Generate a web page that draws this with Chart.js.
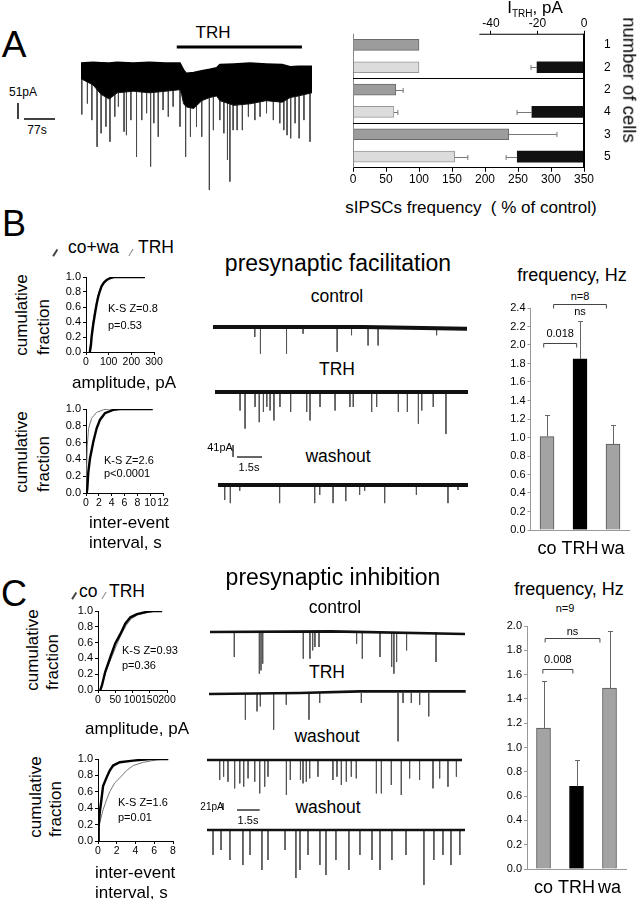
<!DOCTYPE html>
<html>
<head>
<meta charset="utf-8">
<script src="https://cdn.jsdelivr.net/npm/chart.js@4.4.1/dist/chart.umd.min.js"></script>
<style>
  html, body { margin: 0; padding: 0; background: #fff; }
  body { width: 639px; height: 899px; position: relative; overflow: hidden;
         font-family: "Liberation Sans", Arial, Helvetica, sans-serif; color: #000; }
  canvas { position: absolute; }
  .t { position: absolute; white-space: pre; line-height: 1; }
  .sl { position: absolute; height: 1px; width: 8px; }
</style>
</head>
<body>
<script>
// ---------- data ----------

// Panel A, right: sIPSC frequency (% of control) and TRH current per group
const cellCounts = ['1', '2', '2', '4', '3', '5'];
const freqPct = [100, 100, 65, 62, 236, 154];
const freqPctErr = [0, 0, 11, 6, 73, 20];
const trhCurrent = [null, -20.2, null, -22.4, null, -28.7];
const trhCurrentErr = [0, 2.6, 0, 6.4, 0, 4.8];
const freqTicks = [0, 50, 100, 150, 200, 250, 300, 350];
const currentTicks = [-40, -20, 0];
const groupBreaks = [2, 4];

// Panel A, left: long recording (s, pA). dense band envelope + big events
const envT = [0, 30, 50, 70, 90, 130, 170, 210, 246, 250, 255, 262, 280, 300, 320, 337, 345, 380, 420, 460, 500, 520, 540, 574];
const envTop = [0, 2, 1, 0, 2, 0, 2, 0, 0, -10, -22, -33, -30, -25, -20, -15, -5, -3, 0, -3, -5, -12, -10, -10];
const envBottom = [-50, -70, -100, -115, -95, -90, -95, -90, -85, -100, -130, -140, -145, -120, -110, -105, -120, -135, -130, -120, -125, -110, -105, -95];
const spikesA_t = [2, 16, 27, 40, 50, 62, 72, 84, 93, 107, 113, 124, 138, 151, 163, 173, 181, 192, 204, 217,
  229, 246, 260, 272, 287, 300, 319, 329, 345, 355, 364, 370, 378, 388, 401, 416, 432, 445, 461, 478,
  494, 504, 512, 521, 532, 542, 554, 569];
const spikesA_amp = [-164, -129, -182, -267, -224, -203, -251, -171, -139, -219, -230, -182, -299, -182, -160, -330, -192, -235, -150, -171,
  -139, -203, -299, -235, -203, -235, -405, -214, -182, -224, -309, -378, -214, -214, -214, -171, -182, -171, -160, -182,
  -192, -214, -230, -240, -192, -240, -182, -251];
const trhWindowA = [238, 549];

// Panel B traces (s, pA)
const ctrlB_baseT = [0, 9, 15.2];
const ctrlB_baseY = [0, 0, -6];
const ctrlB_t = [2.5, 2.84, 4.4, 5.39, 7.43, 8.29, 9.28, 9.88, 13.38];
const ctrlB_amp = [-34, -91, -91, -23, -85, -28, -63, -63, -28];
const trhB_baseT = [0, 15.15];
const trhB_baseY = [0, 0];
const trhB_t = [1.5, 1.8, 2.4, 2.65, 2.9, 3.1, 3.3, 3.53, 3.89, 4.53, 5.49, 5.69, 6.29, 7.19, 8.08, 8.28, 9.38, 9.68, 10.98, 11.52, 12.18, 12.38, 13.07, 13.83];
const trhB_amp = [-63, -125, -51, -103, -68, -51, -63, -97, -51, -68, -68, -97, -51, -63, -51, -51, -68, -51, -68, -68, -108, -63, -51, -143];
const washB_baseT = [0, 14.97];
const washB_baseY = [0, 0];
const washB_t = [0.4, 0.74, 1.3, 3.69, 5.79, 6.09, 6.89, 7.65, 8.48, 8.78, 9.98, 11.88, 13.77, 14.37];
const washB_amp = [-51, -62, -20, -62, -62, -34, -62, -55, -34, -20, -62, -34, -62, -17];

// Panel C traces (s, pA)
const ctrlC_baseT = [0, 8, 16.9];
const ctrlC_baseY = [0, 2, -6];
const ctrlC_t = [1.61, 3.27, 3.38, 3.49, 6.18, 6.62, 6.8, 6.95, 7.22, 9.71, 10.09, 11.26, 12.03, 12.18, 12.36, 13.02, 14.97];
const ctrlC_amp = [-75, -125, -115, -95, -80, -80, -55, -45, -45, -35, -80, -75, -105, -125, -90, -55, -90];
const trhC_baseT = [0, 6, 10, 17];
const trhC_baseY = [-3, 0, 5, 5];
const trhC_t = [2.41, 3.18, 3.4, 4.28, 5.12, 6.62, 7.33, 10.09, 12.52, 12.85, 13.4, 13.95, 14.55];
const trhC_amp = [-80, -55, -40, -110, -35, -80, -30, -30, -145, -30, -30, -35, -70];
const washC1_baseT = [0, 16.9];
const washC1_baseY = [0, 0];
const washC1_t = [0.84, 1.1, 1.39, 1.83, 2.17, 2.43, 2.72, 3.16, 3.49, 3.82, 4.04, 5.26, 5.52, 6.19, 6.36, 6.58, 6.8, 7.35, 8.34, 8.61,
  8.9, 9.23, 9.56, 9.89, 11.22, 11.55, 12.21, 12.87, 13.42, 14.08, 14.97, 15.41, 15.96, 16.52];
const washC1_amp = [-60, -50, -65, -85, -70, -80, -55, -65, -100, -80, -50, -105, -60, -60, -70, -65, -55, -50, -60, -50,
  -75, -65, -50, -55, -100, -100, -75, -105, -55, -60, -85, -55, -80, -50];
const washC2_baseT = [0, 17.1];
const washC2_baseY = [0, 0];
const washC2_t = [0.4, 0.93, 1.52, 2.38, 2.85, 3.64, 4.04, 5.17, 5.89, 6.16, 6.69, 7.48, 7.88, 8.54, 9.4, 10.13, 10.93, 11.46, 12.25, 13.18, 14.37, 15.03, 15.63, 16.16, 16.75];
const washC2_amp = [-75, -60, -90, -105, -75, -120, -90, -60, -144, -120, -75, -105, -135, -90, -120, -75, -90, -120, -90, -75, -165, -90, -75, -105, -75];

// cumulative distributions
const cumTicks = [0, 0.2, 0.4, 0.6, 0.8, 1.0];
const ampB_co_x = [17, 22, 25, 32, 40, 47, 54, 62, 69, 80, 91, 110, 125, 260];
const ampB_co_y = [0, 0.1, 0.21, 0.37, 0.52, 0.64, 0.74, 0.82, 0.88, 0.93, 0.96, 0.99, 1, 1];
const ampB_trh_x = [15, 20, 24, 30, 38, 45, 52, 60, 68, 78, 90, 105, 120, 150];
const ampB_trh_y = [0, 0.1, 0.21, 0.37, 0.52, 0.64, 0.74, 0.82, 0.88, 0.93, 0.96, 0.99, 1, 1];
const ieiB_co_x = [0.1, 0.2, 0.36, 0.62, 1.14, 1.66, 2.17, 2.95, 4.24, 5.28, 10.4];
const ieiB_co_y = [0, 0.05, 0.25, 0.41, 0.61, 0.77, 0.87, 0.95, 0.99, 1, 1];
const ieiB_trh_x = [0.05, 0.1, 0.2, 0.41, 0.88, 1.66, 2.7, 3.7, 10.4];
const ieiB_trh_y = [0, 0.3, 0.57, 0.77, 0.89, 0.96, 0.99, 1, 1];
const ampC_co_x = [6.8, 11.6, 21, 36, 50, 65, 79, 94, 113, 142, 161, 186];
const ampC_co_y = [0, 0.06, 0.23, 0.42, 0.59, 0.71, 0.84, 0.92, 0.96, 0.99, 1, 1];
const ampC_trh_x = [5, 10, 22, 38, 53, 67, 82, 96, 115, 140, 160, 186];
const ampC_trh_y = [0, 0.05, 0.22, 0.4, 0.56, 0.7, 0.82, 0.9, 0.95, 0.98, 1, 1];
const ieiC_co_x = [0, 0.07, 0.18, 0.36, 0.54, 0.9, 1.25, 1.61, 2.33, 3.76, 5.56, 7.5];
const ieiC_co_y = [0, 0.18, 0.34, 0.5, 0.67, 0.77, 0.86, 0.92, 0.96, 0.98, 1, 1];
const ieiC_trh_x = [0, 0.18, 0.54, 0.9, 1.25, 1.79, 2.33, 3.05, 3.76, 4.84, 6.27, 7.35];
const ieiC_trh_y = [0, 0.22, 0.38, 0.5, 0.6, 0.71, 0.77, 0.86, 0.92, 0.96, 0.99, 1];

// frequency bar charts (Hz)
const freqCats = ['co', 'TRH', 'wa'];
const facilMean = [1.01, 1.85, 0.93];
const facilErr = [0.23, 0.41, 0.20];
const facilTicks = [0, 0.2, 0.4, 0.6, 0.8, 1.0, 1.2, 1.4, 1.6, 1.8, 2.0, 2.2, 2.4];
const inhibMean = [1.16, 0.68, 1.49];
const inhibErr = [0.39, 0.22, 0.47];
const inhibTicks = [0, 0.2, 0.4, 0.6, 0.8, 1.0, 1.2, 1.4, 1.6, 1.8, 2.0];

// ---------- helpers ----------
const F = "'Liberation Sans', Arial, Helvetica, sans-serif";
Chart.defaults.font.family = F;
Chart.defaults.color = '#000';

function addCanvas(left, top, w, h) {
  const c = document.createElement('canvas');
  c.width = w; c.height = h;
  c.style.left = left + 'px'; c.style.top = top + 'px';
  c.style.width = w + 'px'; c.style.height = h + 'px';
  document.body.appendChild(c);
  return c.getContext('2d');
}

function label(html, x, y, size, o = {}) {
  const d = document.createElement('div');
  d.className = 't';
  d.innerHTML = html;
  d.style.left = x + 'px';
  d.style.top = y + 'px';
  d.style.fontSize = size + 'px';
  let tr = o.left ? 'translate(0,-50%)' : 'translate(-50%,-50%)';
  if (o.rot) tr += ' rotate(' + o.rot + 'deg)';
  d.style.transform = tr;
  document.body.appendChild(d);
}

function slash(x, y, w, color) {
  const d = document.createElement('div');
  d.className = 'sl';
  d.style.left = (x - 4) + 'px';
  d.style.top = y + 'px';
  d.style.height = w + 'px';
  d.style.background = color;
  d.style.transform = 'rotate(-58deg)';
  document.body.appendChild(d);
}

function seg(ctx, x0, y0, x1, y1) {
  ctx.beginPath(); ctx.moveTo(x0, y0); ctx.lineTo(x1, y1); ctx.stroke();
}

const pts = (xs, ys) => xs.map((v, i) => ({ x: v, y: ys[i] }));
const fixedTicks = arr => s => { s.ticks = arr.map(v => ({ value: v })); };

function baseOpts(pad) {
  return {
    responsive: false, animation: false, events: [],
    layout: { padding: Object.assign({ top: 0, right: 0, bottom: 0, left: 0 }, pad), autoPadding: false },
    plugins: { legend: { display: false }, tooltip: { enabled: false } }
  };
}

// scale bar drawn in data units of a trace chart
function scaleBar(t0, y0, dy, gapT, dt, lw) {
  return {
    id: 'scaleBar',
    afterDraw(chart) {
      const { ctx, scales: { x, y } } = chart;
      ctx.save();
      ctx.strokeStyle = '#000';
      ctx.lineWidth = lw;
      seg(ctx, x.getPixelForValue(t0), y.getPixelForValue(y0), x.getPixelForValue(t0), y.getPixelForValue(y0 - dy));
      seg(ctx, x.getPixelForValue(t0 + gapT), y.getPixelForValue(y0 - dy), x.getPixelForValue(t0 + gapT + dt), y.getPixelForValue(y0 - dy));
      ctx.restore();
    }
  };
}

function traceChart(left, top, w, h, xMax, yMin, yMax, bt, by, st, sa, lineW, extra) {
  const ctx = addCanvas(left, top, w, h);
  const spikes = [];
  st.forEach((t, i) => { spikes.push({ x: t, y: 0 }, { x: t, y: sa[i] }, { x: t, y: null }); });
  new Chart(ctx, {
    type: 'line',
    data: {
      datasets: [
        { data: pts(bt, by), borderColor: '#111', borderWidth: lineW, pointRadius: 0 },
        { data: spikes, borderColor: '#555', borderWidth: 1, pointRadius: 0, spanGaps: false }
      ]
    },
    options: Object.assign(baseOpts({}), {
      scales: {
        x: { type: 'linear', display: false, min: 0, max: xMax },
        y: { display: false, min: yMin, max: yMax }
      }
    }),
    plugins: extra ? [extra] : []
  });
}

function cumChart(left, top, w, h, area, xMax, xTicks, coX, coY, trhX, trhY) {
  const ctx = addCanvas(left, top, w, h);
  new Chart(ctx, {
    type: 'line',
    data: {
      datasets: [
        { data: pts(coX, coY), borderColor: '#000', borderWidth: 2.4, pointRadius: 0 },
        { data: pts(trhX, trhY), borderColor: '#777', borderWidth: 1, pointRadius: 0 }
      ]
    },
    options: Object.assign(baseOpts({ top: area.t - top, right: left + w - area.r }), {
      scales: {
        x: {
          type: 'linear', min: 0, max: xMax,
          afterBuildTicks: fixedTicks(xTicks),
          afterFit: s => { s.height = top + h - area.b; },
          grid: { drawOnChartArea: false, color: '#000', tickLength: 3 },
          border: { color: '#000' },
          ticks: { font: { size: 10.5 }, color: '#000', padding: 1, maxRotation: 0, autoSkip: false }
        },
        y: {
          min: 0, max: 1,
          afterBuildTicks: fixedTicks(cumTicks),
          afterFit: s => { s.width = area.l - left; },
          grid: { drawOnChartArea: false, color: '#000', tickLength: 3 },
          border: { color: '#000' },
          ticks: { font: { size: 11 }, color: '#000', padding: 2, autoSkip: false, callback: v => v.toFixed(1) }
        }
      }
    })
  });
}

function freqChart(left, top, w, h, area, yMax, yTicks, means, errs, brackets) {
  const ctx = addCanvas(left, top, w, h);
  const extras = {
    id: 'freqExtras',
    afterDatasetsDraw(chart) {
      const { ctx, scales: { x, y } } = chart;
      ctx.save();
      ctx.strokeStyle = '#666';
      ctx.lineWidth = 1;
      means.forEach((m, i) => {
        const xx = Math.round(x.getPixelForValue(i)) + 0.5;
        const y0 = y.getPixelForValue(m), y1 = Math.round(y.getPixelForValue(m + errs[i])) + 0.5;
        seg(ctx, xx, y0, xx, y1);
        seg(ctx, xx - 2.5, y1, xx + 2.5, y1);
      });
      ctx.strokeStyle = '#444';
      ctx.fillStyle = '#000';
      ctx.font = '11px ' + F;
      ctx.textAlign = 'center';
      ctx.textBaseline = 'middle';
      brackets.forEach(b => {
        const x0 = x.getPixelForValue(b.from), x1 = x.getPixelForValue(b.to);
        const yy = Math.round(y.getPixelForValue(b.level)) + 0.5;
        seg(ctx, x0, yy + 4, x0, yy);
        seg(ctx, x0, yy, x1, yy);
        seg(ctx, x1, yy, x1, yy + 4);
        ctx.fillText(b.text, (x0 + x1) / 2, yy + b.dy);
      });
      ctx.restore();
    }
  };
  new Chart(ctx, {
    type: 'bar',
    data: {
      labels: freqCats,
      datasets: [{
        data: means,
        backgroundColor: ['#a3a3a3', '#000', '#a3a3a3'],
        borderColor: ['#555', '#000', '#555'],
        borderWidth: 1, barThickness: 14
      }]
    },
    options: Object.assign(baseOpts({ top: area.t - top, right: left + w - area.r }), {
      scales: {
        x: {
          type: 'category', offset: true,
          afterFit: s => { s.height = top + h - area.b; },
          grid: { display: false, drawTicks: false },
          border: { color: '#999' },
          ticks: { font: { size: 18 }, color: '#000', padding: 8, maxRotation: 0, autoSkip: false }
        },
        y: {
          min: 0, max: yMax,
          afterBuildTicks: fixedTicks(yTicks),
          afterFit: s => { s.width = area.l - left; },
          grid: { drawOnChartArea: false, color: '#999', tickLength: 3 },
          border: { color: '#999' },
          ticks: { font: { size: 11 }, color: '#000', padding: 2, autoSkip: false, callback: v => v.toFixed(1) }
        }
      }
    }),
    plugins: [extras]
  });
}

// ---------- panel A ----------
label('A', 14, 44, 37);
label('TRH', 213, 32, 17);
label('51pA', 23, 92, 12);
label('77s', 37, 130, 12);

(function () {
  const ctx = addCanvas(0, 40, 312, 155);
  const spikes = [];
  spikesA_t.forEach((t, i) => { spikes.push({ x: t, y: -40 }, { x: t, y: spikesA_amp[i] }, { x: t, y: null }); });
  const extras = {
    id: 'traceAExtras',
    afterDraw(chart) {
      const { ctx, scales: { x, y } } = chart;
      ctx.save();
      ctx.strokeStyle = '#000';
      ctx.lineWidth = 3;
      const yb = y.getPixelForValue(51);
      seg(ctx, x.getPixelForValue(trhWindowA[0]), yb, x.getPixelForValue(trhWindowA[1]), yb);
      ctx.restore();
    }
  };
  new Chart(ctx, {
    type: 'line',
    data: {
      datasets: [
        { data: pts(envT, envTop), borderColor: '#000', borderWidth: 1.5, pointRadius: 0, fill: false },
        { data: pts(envT, envBottom), borderColor: '#111', borderWidth: 1, pointRadius: 0, fill: '-1', backgroundColor: '#000' },
        { data: spikes, borderColor: '#4a4a4a', borderWidth: 1, pointRadius: 0, spanGaps: false }
      ]
    },
    options: Object.assign(baseOpts({}), {
      scales: {
        x: { type: 'linear', display: false, min: -201.2, max: 574 },
        y: { display: false, min: -420.75, max: 73.3 }
      }
    }),
    plugins: [extras, scaleBar(-156.5, -127.5, 51, 15, 77, 1.5)]
  });
})();

// horizontal bars
(function () {
  const ctx = addCanvas(330, 0, 309, 195);
  const fills = freqPct.map((v, i) => i % 2 ? '#dcdcdc' : '#9c9c9c');
  const edges = freqPct.map((v, i) => i % 2 ? '#999' : '#6a6a6a');
  const extras = {
    id: 'aExtras',
    afterDatasetsDraw(chart) {
      const { ctx, chartArea: ca, scales: { x, x2, y } } = chart;
      ctx.save();
      ctx.lineWidth = 1;
      ctx.strokeStyle = '#888';
      seg(ctx, ca.left + 0.5, ca.top, ca.left + 0.5, ca.bottom);
      ctx.strokeStyle = '#000';
      groupBreaks.forEach(b => {
        const yy = Math.round((y.getPixelForValue(b - 1) + y.getPixelForValue(b)) / 2) + 0.5;
        seg(ctx, ca.left, yy, ca.right, yy);
      });
      ctx.strokeStyle = '#777';
      freqPct.forEach((v, i) => {
        if (!freqPctErr[i]) return;
        const yy = Math.round(y.getPixelForValue(i)) + 0.5;
        const x0 = x.getPixelForValue(v), x1 = x.getPixelForValue(v + freqPctErr[i]);
        seg(ctx, x0, yy, x1, yy);
        seg(ctx, x1, yy - 2.5, x1, yy + 2.5);
      });
      trhCurrent.forEach((v, i) => {
        if (v === null) return;
        const yy = Math.round(y.getPixelForValue(i)) + 0.5;
        const x0 = x2.getPixelForValue(v), x1 = x2.getPixelForValue(v - trhCurrentErr[i]);
        seg(ctx, x0, yy, x1, yy);
        seg(ctx, x1, yy - 2.5, x1, yy + 2.5);
      });
      ctx.strokeStyle = '#000';
      ctx.lineWidth = 2;
      const x0 = x2.getPixelForValue(0);
      seg(ctx, x0, ca.top, x0, ca.bottom);
      ctx.lineWidth = 1;
      seg(ctx, x2.getPixelForValue(-45), ca.top + 0.5, x0, ca.top + 0.5);
      ctx.restore();
    }
  };
  new Chart(ctx, {
    type: 'bar',
    data: {
      labels: cellCounts,
      datasets: [
        { data: freqPct, xAxisID: 'x', backgroundColor: fills, borderColor: edges, borderWidth: 1, barThickness: 11, grouped: false },
        { data: trhCurrent, xAxisID: 'x2', backgroundColor: '#111', borderWidth: 0, barThickness: 11, grouped: false }
      ]
    },
    options: Object.assign(baseOpts({ left: 23 }), {
      indexAxis: 'y',
      scales: {
        x: {
          type: 'linear', position: 'bottom', min: 0, max: 350,
          afterBuildTicks: fixedTicks(freqTicks),
          afterFit: s => { s.height = 20.25; },
          grid: { drawOnChartArea: false, color: '#000', tickLength: 4 },
          border: { color: '#000' },
          ticks: { font: { size: 12 }, color: '#000', padding: 1, maxRotation: 0, autoSkip: false }
        },
        x2: {
          type: 'linear', position: 'top', min: -99.35, max: 0,
          afterBuildTicks: fixedTicks(currentTicks),
          afterFit: s => { s.height = 33.75; },
          grid: { drawOnChartArea: false, color: '#000', tickLength: 3 },
          border: { display: false },
          ticks: { font: { size: 12 }, color: '#000', padding: 0, maxRotation: 0, autoSkip: false }
        },
        y: {
          type: 'category', position: 'right', offset: true,
          afterFit: s => { s.width = 55; },
          grid: { display: false, drawTicks: false },
          border: { display: false },
          ticks: { font: { size: 12 }, color: '#000', padding: 20 }
        }
      }
    }),
    plugins: [extras]
  });
})();

label('I<span style="font-size:10px;position:relative;top:4px">TRH</span>, pA', 535, 7, 17);
label('number of cells', 629, 80, 18.5, { rot: 90 });
label('sIPSCs frequency  ( % of control)', 471, 207, 17);

// ---------- panel B ----------
label('B', 14, 224, 36);
slash(55, 252, 1.5, '#444');
label('co+wa', 68, 248, 17.5, { left: true });
slash(131, 252, 1, '#888');
label('TRH', 138, 248, 17.5, { left: true });

label('cumulative', 21, 314.5, 17, { rot: -90 });
label('fraction', 42.5, 327, 17, { rot: -90 });
cumChart(55, 268, 110, 104, { l: 86, r: 154, t: 277, b: 352 }, 300, [0, 100, 200, 300], ampB_co_x, ampB_co_y, ampB_trh_x, ampB_trh_y);
label('K-S Z=0.8', 108, 308, 11, { left: true });
label('p=0.53', 108, 325, 11, { left: true });
label('amplitude, pA', 124, 382, 17);

label('cumulative', 21, 451.5, 17, { rot: -90 });
label('fraction', 42.5, 464, 17, { rot: -90 });
cumChart(55, 400, 118, 113, { l: 86, r: 163, t: 409, b: 493 }, 12, [0, 2, 4, 6, 8, 10, 12], ieiB_co_x, ieiB_co_y, ieiB_trh_x, ieiB_trh_y);
label('K-S Z=2.6', 104, 460, 11, { left: true });
label('p&lt;0.0001', 104, 473, 11, { left: true });
label('inter-event', 89, 522, 17, { left: true });
label('interval, s', 89, 542, 17, { left: true });

label('presynaptic facilitation', 338, 263, 23);
label('control', 337, 297, 17.5);
label('TRH', 337, 370, 17.5);
label('washout', 338, 457, 17.5);
label('41pA', 220, 447, 11);
label('1.5s', 249, 467, 11);
traceChart(213, 318, 254, 40, 15.2, -106, 30.8, ctrlB_baseT, ctrlB_baseY, ctrlB_t, ctrlB_amp, 4);
traceChart(215, 383, 253, 55, 15.15, -157, 30.8, trhB_baseT, trhB_baseY, trhB_t, trhB_amp, 4);
traceChart(218, 440, 250, 70, 14.97, -85.5, 154, washB_baseT, washB_baseY, washB_t, washB_amp, 4,
  scaleBar(0.9, 136.8, 41, 0.24, 1.5, 1.2));

label('frequency, Hz', 572, 275, 18);
label('n=8', 580, 296, 11);
freqChart(480, 285, 159, 285, { l: 530.5, r: 629.5, t: 308, b: 530 }, 2.4, facilTicks, facilMean, facilErr, [
  { from: -0.1, to: 0.9, level: 2.02, text: '0.018', dy: -10 },
  { from: 0.2, to: 1.8, level: 2.44, text: 'ns', dy: 7 }
]);

// ---------- panel C ----------
label('C', 14, 594, 36);
slash(74, 595, 1.5, '#444');
label('co', 79, 592, 17.5, { left: true });
slash(104, 595, 1, '#888');
label('TRH', 109, 592, 17.5, { left: true });

label('cumulative', 32, 649.5, 17, { rot: -90 });
label('fraction', 52, 662, 17, { rot: -90 });
cumChart(67, 602, 110, 108, { l: 98, r: 167, t: 611, b: 690 }, 200, [0, 50, 100, 150, 200], ampC_co_x, ampC_co_y, ampC_trh_x, ampC_trh_y);
label('K-S Z=0.93', 122, 650, 11, { left: true });
label('p=0.36', 122, 665, 11, { left: true });
label('amplitude, pA', 137, 728, 17);

label('cumulative', 35, 796.5, 17, { rot: -90 });
label('fraction', 55, 809, 17, { rot: -90 });
cumChart(67, 750, 116, 112, { l: 98, r: 173, t: 759, b: 841 }, 8, [0, 2, 4, 6, 8], ieiC_co_x, ieiC_co_y, ieiC_trh_x, ieiC_trh_y);
label('K-S Z=1.6', 118, 802, 11, { left: true });
label('p=0.01', 118, 817, 11, { left: true });
label('inter-event', 95, 872, 17, { left: true });
label('interval, s', 95, 892, 17, { left: true });

label('presynaptic inhibition', 333, 577, 23);
label('control', 335, 608, 17.5);
label('TRH', 327, 673, 17.5);
label('washout', 327, 737, 17.5);
label('washout', 328, 808, 17.5);
label('21pA', 212, 807, 10);
label('1.5s', 248, 820, 11);
traceChart(210, 623, 255, 55, 16.89, -138, 27, ctrlC_baseT, ctrlC_baseY, ctrlC_t, ctrlC_amp, 2.6);
traceChart(209, 684, 257, 62, 17.02, -159, 27, trhC_baseT, trhC_baseY, trhC_t, trhC_amp, 2.6);
traceChart(207, 751, 255, 50, 16.89, -123, 27, washC1_baseT, washC1_baseY, washC1_t, washC1_amp, 2.6);
traceChart(207, 798, 258, 90, 17.09, -174, 96, washC2_baseT, washC2_baseY, washC2_t, washC2_amp, 2.6,
  scaleBar(1.06, 81, 21, 0.93, 1.5, 1.2));

label('frequency, Hz', 569, 589, 18);
label('n=9', 565, 608, 11);
freqChart(480, 600, 159, 299, { l: 527, r: 626, t: 626, b: 869 }, 2.0, inhibTicks, inhibMean, inhibErr, [
  { from: -0.02, to: 0.89, level: 1.646, text: '0.008', dy: -10 },
  { from: 0.05, to: 1.71, level: 1.90, text: 'ns', dy: -7 }
]);
</script>
</body>
</html>
